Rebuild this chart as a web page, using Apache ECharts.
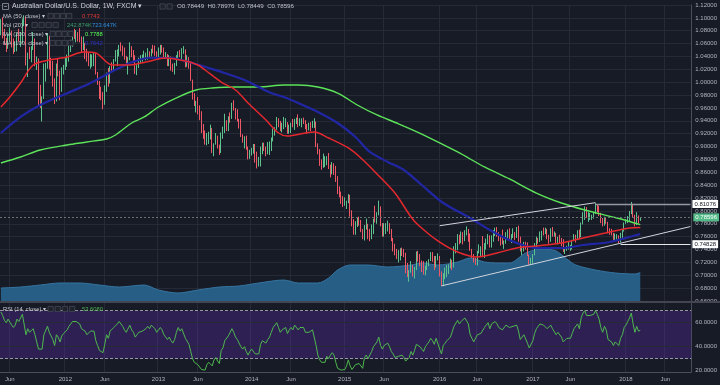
<!DOCTYPE html>
<html><head><meta charset="utf-8">
<script src="https://cdn.jsdelivr.net/npm/echarts@6/dist/echarts.min.js"></script>
<style>html,body{margin:0;padding:0;background:#171b26;}#c{width:720px;height:385px;}</style>
</head><body><div id="c"></div>
<script>
// ---------------- data ----------------
const firstWeek = [2011, 3, 25];   // Monday 2011-04-25 (UTC y, m-1, d)
const weekCount = 386;             // weekly slots on the time axis (data + empty future)
const firstOpen = 1.077;

const closes = [
1.096,1.075,1.064,1.063,1.073,1.073,1.054,1.050,1.053,1.074,
1.068,1.070,1.097,1.101,1.027,1.045,1.042,1.051,1.060,1.030,
1.035,0.977,0.972,0.976,1.028,1.029,1.071,1.037,1.020,1.003,
0.976,1.026,1.016,0.989,1.014,1.023,1.030,1.038,1.051,1.063,
1.074,1.071,1.074,1.072,1.069,1.054,1.059,1.046,1.035,1.029,
1.034,1.035,1.043,1.013,0.999,0.980,0.976,0.969,0.990,1.014,
1.000,1.024,1.021,1.034,1.041,1.048,1.055,1.054,1.046,1.038,
1.033,1.036,1.054,1.042,1.036,1.021,1.026,1.036,1.038,1.039,
1.042,1.044,1.048,1.043,1.052,1.050,1.046,1.038,1.045,1.056,
1.051,1.040,1.043,1.029,1.035,1.027,1.020,1.027,1.041,1.047,
1.042,1.049,1.050,1.028,1.031,1.023,1.002,0.979,0.967,0.967,
0.951,0.949,0.929,0.913,0.908,0.918,0.922,0.924,0.890,0.903,
0.915,0.900,0.893,0.921,0.924,0.938,0.933,0.947,0.946,0.966,
0.958,0.946,0.940,0.936,0.917,0.908,0.911,0.896,0.882,0.890,
0.895,0.898,0.878,0.872,0.875,0.895,0.904,0.899,0.892,0.902,
0.907,0.910,0.926,0.929,0.942,0.935,0.925,0.932,0.935,0.937,
0.923,0.930,0.936,0.931,0.941,0.943,0.933,0.940,0.941,0.940,
0.931,0.929,0.931,0.929,0.934,0.938,0.901,0.892,0.875,0.870,
0.872,0.878,0.881,0.868,0.863,0.871,0.869,0.848,0.829,0.825,
0.812,0.810,0.811,0.815,0.823,0.792,0.778,0.772,0.780,0.783,
0.782,0.768,0.758,0.775,0.779,0.766,0.760,0.778,0.786,0.785,
0.796,0.805,0.777,0.766,0.774,0.776,0.778,0.767,0.754,0.745,
0.734,0.728,0.731,0.740,0.735,0.731,0.713,0.699,0.705,0.710,
0.701,0.711,0.730,0.729,0.720,0.713,0.703,0.713,0.718,0.723,
0.733,0.724,0.714,0.727,0.729,0.700,0.686,0.701,0.707,0.711,
0.712,0.717,0.715,0.744,0.748,0.758,0.752,0.765,0.756,0.768,
0.770,0.761,0.739,0.730,0.723,0.719,0.735,0.738,0.738,0.734,
0.749,0.752,0.761,0.749,0.760,0.762,0.766,0.762,0.755,0.754,
0.750,0.751,0.763,0.765,0.758,0.762,0.762,0.760,0.767,0.757,
0.739,0.743,0.748,0.747,0.731,0.720,0.722,0.731,0.747,0.756,
0.754,0.767,0.768,0.766,0.768,0.760,0.758,0.770,0.763,0.764,
0.752,0.757,0.755,0.748,0.738,0.740,0.744,0.745,0.745,0.754,
0.760,0.759,0.769,0.760,0.781,0.791,0.799,0.791,0.792,0.793,
0.793,0.795,0.806,0.801,0.795,0.784,0.778,0.788,0.782,0.766,
0.765,0.764,0.756,0.761,0.761,0.752,0.765,0.769,0.781,0.785,
0.790,0.799,0.810,0.792,0.780,0.792,0.78449,0.78596];

const highs = [
1.098,1.101,1.083,1.069,1.075,1.085,1.080,1.068,1.063,1.077,
1.083,1.078,1.098,1.104,1.102,1.046,1.055,1.056,1.078,1.068,
1.040,1.037,0.996,0.978,1.029,1.030,1.076,1.072,1.038,1.033,
1.006,1.029,1.036,1.018,1.023,1.027,1.038,1.043,1.058,1.066,
1.077,1.083,1.081,1.078,1.084,1.071,1.071,1.061,1.052,1.047,
1.044,1.043,1.046,1.045,1.016,1.002,0.993,0.985,0.995,1.015,
1.022,1.025,1.031,1.036,1.050,1.051,1.058,1.062,1.057,1.054,
1.041,1.039,1.062,1.056,1.050,1.042,1.028,1.038,1.042,1.043,
1.049,1.046,1.053,1.048,1.052,1.058,1.057,1.048,1.054,1.058,
1.058,1.054,1.047,1.044,1.042,1.040,1.029,1.030,1.042,1.048,
1.050,1.053,1.056,1.051,1.042,1.039,1.033,1.004,0.983,0.971,
0.977,0.964,0.955,0.935,0.925,0.921,0.923,0.934,0.929,0.905,
0.921,0.917,0.903,0.922,0.931,0.951,0.941,0.947,0.953,0.968,
0.972,0.960,0.958,0.943,0.943,0.919,0.916,0.917,0.900,0.895,
0.898,0.904,0.904,0.892,0.884,0.900,0.906,0.906,0.900,0.907,
0.908,0.914,0.928,0.930,0.946,0.944,0.940,0.937,0.946,0.944,
0.938,0.934,0.937,0.943,0.943,0.945,0.950,0.944,0.944,0.945,
0.941,0.935,0.937,0.938,0.940,0.944,0.939,0.905,0.896,0.880,
0.889,0.885,0.885,0.890,0.872,0.876,0.874,0.870,0.854,0.838,
0.830,0.823,0.821,0.816,0.826,0.825,0.801,0.787,0.784,0.789,
0.791,0.786,0.772,0.778,0.788,0.780,0.772,0.779,0.788,0.808,
0.798,0.816,0.807,0.781,0.781,0.781,0.785,0.781,0.772,0.758,
0.749,0.741,0.739,0.742,0.743,0.741,0.735,0.719,0.708,0.722,
0.716,0.713,0.737,0.738,0.733,0.723,0.722,0.715,0.722,0.725,
0.736,0.736,0.730,0.730,0.734,0.730,0.706,0.703,0.712,0.716,
0.717,0.726,0.724,0.745,0.750,0.764,0.763,0.768,0.767,0.770,
0.776,0.772,0.765,0.741,0.733,0.727,0.738,0.748,0.745,0.761,
0.750,0.757,0.764,0.762,0.762,0.770,0.774,0.775,0.767,0.760,
0.771,0.754,0.767,0.771,0.773,0.764,0.773,0.767,0.775,0.777,
0.760,0.745,0.752,0.752,0.751,0.732,0.727,0.733,0.750,0.760,
0.758,0.768,0.769,0.774,0.774,0.772,0.763,0.773,0.775,0.768,
0.766,0.760,0.763,0.758,0.756,0.742,0.746,0.752,0.747,0.755,
0.764,0.763,0.770,0.771,0.782,0.798,0.807,0.806,0.798,0.797,
0.794,0.797,0.812,0.810,0.808,0.797,0.789,0.791,0.790,0.783,
0.773,0.772,0.766,0.765,0.764,0.762,0.766,0.770,0.782,0.787,
0.792,0.800,0.814,0.811,0.794,0.798,0.793,0.78976];

const lows = [
1.073,1.068,1.058,1.047,1.052,1.064,1.054,1.044,1.047,1.048,
1.063,1.055,1.061,1.087,1.026,1.008,1.036,1.031,1.050,1.025,
1.019,0.963,0.960,0.939,0.974,1.001,1.021,1.020,1.010,0.993,
0.966,0.970,1.009,0.972,0.985,1.012,1.019,1.024,1.032,1.047,
1.055,1.067,1.062,1.063,1.062,1.046,1.050,1.036,1.032,1.025,
1.021,1.024,1.025,1.012,0.996,0.974,0.972,0.958,0.965,0.985,
0.993,0.998,1.017,1.017,1.032,1.025,1.040,1.048,1.041,1.035,
1.027,1.012,1.034,1.039,1.030,1.013,1.011,1.022,1.030,1.032,
1.037,1.034,1.035,1.037,1.040,1.045,1.041,1.035,1.035,1.043,
1.046,1.037,1.036,1.025,1.025,1.018,1.016,1.012,1.025,1.036,
1.039,1.036,1.044,1.023,1.024,1.021,1.002,0.973,0.963,0.953,
0.950,0.941,0.921,0.912,0.903,0.902,0.904,0.911,0.890,0.885,
0.903,0.897,0.887,0.890,0.912,0.921,0.924,0.924,0.937,0.943,
0.956,0.942,0.939,0.928,0.915,0.906,0.897,0.895,0.880,0.881,
0.886,0.889,0.875,0.866,0.869,0.869,0.888,0.893,0.885,0.888,
0.887,0.893,0.908,0.917,0.926,0.930,0.924,0.922,0.927,0.930,
0.920,0.920,0.921,0.930,0.926,0.935,0.930,0.932,0.930,0.935,
0.927,0.920,0.925,0.924,0.929,0.929,0.899,0.888,0.870,0.864,
0.867,0.868,0.871,0.865,0.852,0.857,0.856,0.845,0.826,0.821,
0.811,0.806,0.808,0.803,0.812,0.791,0.776,0.763,0.763,0.775,
0.777,0.767,0.756,0.754,0.771,0.756,0.753,0.756,0.764,0.782,
0.780,0.793,0.776,0.760,0.760,0.764,0.768,0.764,0.753,0.737,
0.731,0.725,0.720,0.723,0.730,0.728,0.703,0.697,0.690,0.704,
0.698,0.695,0.708,0.721,0.714,0.705,0.701,0.700,0.708,0.714,
0.722,0.721,0.708,0.712,0.723,0.698,0.683,0.683,0.694,0.697,
0.702,0.711,0.708,0.712,0.734,0.739,0.748,0.750,0.748,0.753,
0.762,0.752,0.738,0.727,0.720,0.716,0.715,0.734,0.729,0.728,
0.727,0.740,0.748,0.743,0.743,0.752,0.761,0.760,0.753,0.746,
0.748,0.741,0.749,0.757,0.756,0.750,0.758,0.755,0.758,0.752,
0.737,0.731,0.737,0.740,0.730,0.716,0.716,0.718,0.731,0.742,
0.749,0.752,0.754,0.762,0.764,0.756,0.749,0.752,0.760,0.760,
0.750,0.748,0.749,0.745,0.736,0.733,0.738,0.740,0.738,0.740,
0.753,0.751,0.756,0.756,0.759,0.779,0.786,0.789,0.783,0.786,
0.786,0.788,0.795,0.798,0.792,0.781,0.776,0.777,0.780,0.765,
0.763,0.762,0.754,0.752,0.755,0.7501,0.751,0.758,0.768,0.780,
0.781,0.784,0.795,0.790,0.776,0.778,0.780,0.78449];

const rsi = [
69,66,62,60,63,63,58,56,58,63,
61,62,67,66,50,55,52,53,55,50,
51,38,37,38,50,50,57,52,49,46,
41,50,48,44,49,51,52,54,57,59,
61,61,61,60,59,55,56,53,50,51,
53,52,53,45,41,37,36,35,42,50,
47,53,52,56,57,59,61,60,57,54,
52,53,58,54,52,48,50,52,53,53,
54,55,57,55,58,57,55,52,52,56,
54,50,49,46,48,45,43,46,52,56,
53,55,55,47,48,42,36,30,27,28,
25,25,21,21,20.5,25,27,28,24,29,
31,28,26,37,39,45,44,49,49,55,
52,48,46,47,40,38,40,36,33,36,
38,39,34,33,34,42,45,44,43,46,
48,52,56,57,60,56,52,54,55,56,
51,54,56,54,58,58,54,56,57,56,
52,51,52,51,54,55,41,33,29,27,
28,27,32,30,33,35,33,27,22,22,
20.5,20.5,21,24,29,24,21,21,25,24,
26,24,22,31,33,30,29,36,40,40,
44,48,41,38,41,42,43,40,36,34,
31,30,32,32,33,31,28,27,31,36,
33,37,42,42,40,38,36,40,42,44,
47,45,42,47,48,38,34,41,43,45,
46,48,47,57,58,62,59,61,60,64,
64,59,50,47,44,43,50,51,51,50,
56,57,60,55,59,60,61,59,56,56,
54,54,58,59,56,57,57,56,58,53,
46,48,50,49,43,39,40,45,51,55,
54,59,59,58,58,55,54,58,55,56,
50,52,51,48,44,45,47,47,47,51,
55,54,59,55,64,68,70,66,66,66,
66,67,70,67,63,56,52,57,54,46,
45,44,41,44,44,41,47,50,56,58,
61,64,68,59,52,57,53,53.608];

// moving averages: [week index, value]
const ma50 = [[0,0.9615],[5,0.977],[11,0.9988],[18,1.0268],[27,1.0345],[37,1.0392],[46,1.047],[53,1.0454],[62,1.0268],[72,1.0268],[81,1.0314],[92,1.0376],[103,1.033],[110,1.0268],[114,1.019],[123,1.0003],[131,0.9879],[138,0.9677],[148,0.9413],[155,0.9211],[160,0.9164],[170,0.9211],[175,0.9226],[183,0.9133],[194,0.8978],[201,0.8822],[210,0.8574],[220,0.8278],[229,0.7906],[233,0.7781],[244,0.7533],[255,0.7362],[266,0.7284],[277,0.7346],[288,0.7424],[299,0.7455],[313,0.7501],[325,0.7579],[340,0.7672],[351,0.7735],[357,0.7743]];
const ma100 = [[0,0.9211],[11,0.946],[22,0.9646],[37,0.983],[48,0.996],[55,1.006],[61,1.015],[66,1.022],[73,1.031],[83,1.038],[95,1.0376],[105,1.0314],[116,1.0221],[125,1.0143],[136,1.0034],[144,0.9926],[151,0.9832],[158,0.977],[166,0.9677],[177,0.9537],[188,0.9366],[198,0.9149],[206,0.8916],[216,0.8761],[225,0.8636],[235,0.8403],[247,0.8123],[262,0.789],[275,0.7672],[288,0.7501],[299,0.7424],[314,0.7424],[325,0.747],[340,0.7517],[351,0.7595],[357,0.7642]];
const ma200 = [[0,0.8745],[11,0.8838],[22,0.8947],[37,0.9025],[48,0.9071],[59,0.9118],[64,0.918],[73,0.9366],[80,0.946],[88,0.9615],[99,0.977],[109,0.9879],[118,0.991],[131,0.9926],[144,0.9926],[158,0.9957],[166,0.9957],[177,0.9926],[188,0.9832],[199,0.9646],[210,0.9491],[221,0.9366],[235,0.9195],[255,0.8916],[270,0.8683],[284,0.8496],[299,0.8278],[313,0.8123],[326,0.8014],[344,0.789],[357,0.7788]];
// volume 20-week average, thousands
const volMA = [[0,330],[11,355],[22,406],[33,457],[44,457],[55,406],[66,355],[80,406],[88,279],[99,203],[110,279],[122,355],[133,381],[144,457],[158,533],[166,457],[177,457],[183,584],[188,787],[195,914],[205,914],[216,863],[229,914],[235,965],[244,914],[255,990],[262,1092],[270,990],[277,965],[284,965],[293,1219],[302,1320],[310,1270],[316,1066],[321,914],[332,787],[343,711],[354,686],[357,724]];

// drawings
const channelUpper = [[245,0.777],[332,0.8128]];
const channelLower = [[246,0.6835],[385,0.7757]];
const levelHigh = [332, 0.81076];
const levelLow = [346, 0.74828];
const lastPrice = 0.78596;

const priceMin = 0.66, priceMax = 1.12, priceStep = 0.02;
const volAxisMax = 7516;
const rsiMin = 18.92, rsiMax = 76.42;
const rsiTicks = [20, 40, 60];
const rsiBand = [30, 70];

// ---------------- build ----------------
const DAY = 864e5;
const t0 = Date.UTC(firstWeek[0], firstWeek[1], firstWeek[2]);
const cats = [];
for (let i = 0; i < weekCount; i++) cats.push(new Date(t0 + i * 7 * DAY).toISOString().slice(0, 10));
const labelMap = {};
for (let y = 2011; y <= 2018; y++) {
  [[0, String(y)], [5, 'Jun']].forEach(([m, s]) => {
    const k = Math.round((Date.UTC(y, m, 1) - t0) / (7 * DAY));
    if (k >= 0 && k < weekCount) labelMap[k] = s;
  });
}
const isLabelWeek = (i) => labelMap[i] !== undefined;

const candles = closes.map((c, i) => [i === 0 ? firstOpen : closes[i - 1], c, lows[i], highs[i]]);

const FONT = '"Liberation Sans", Arial, sans-serif';
const BG = '#171b26', GRID = '#262a36', AXIS = '#4a4e59', TXT = '#b2b5be', LEG = '#c4c7ce';
const UP = '#5ec28f', DOWN = '#ef5866';

function txt(x, y, s, color, size) {
  return {type:'text', x:x, y:y, z:100, silent:true,
    style:{text:s, fill:color, font: size + 'px ' + FONT, verticalAlign:'middle', textVerticalAlign:'middle', align:'left'}};
}
function boxes(x, y, n, step) {
  const out = [];
  for (let i = 0; i < n; i++) out.push({type:'rect', z:100, silent:true,
    shape:{x:x + i * step, y:y - 2.6, width:5.2, height:5.2},
    style:{fill:'#1e222d', stroke:'#454955', lineWidth:0.8}});
  return out;
}
const badge = (bg, fg) => ({show:true, position:'end', distance:2, color:fg, backgroundColor:bg,
  padding:[1,2,1,2], fontSize:6, fontFamily:FONT});

const chart = echarts.init(document.getElementById('c'), null, {renderer:'canvas'});
chart.setOption({
  backgroundColor: BG,
  animation: false,
  textStyle: {fontFamily: FONT},
  grid: [{left:0, right:23, top:5, height:296}, {left:0, right:23, top:303, height:69}],
  xAxis: [
    {type:'category', gridIndex:0, data:cats, boundaryGap:true,
     axisLine:{show:false}, axisTick:{show:false}, axisLabel:{show:false},
     splitLine:{show:true, interval:isLabelWeek, lineStyle:{color:GRID, width:1}}},
    {type:'category', gridIndex:1, data:cats, boundaryGap:true,
     axisLine:{show:true, lineStyle:{color:AXIS}}, axisTick:{show:false},
     axisLabel:{interval:isLabelWeek, formatter:(v, i) => labelMap[i] || '', color:TXT, fontSize:6, margin:4},
     splitLine:{show:true, interval:isLabelWeek, lineStyle:{color:GRID, width:1}}}
  ],
  yAxis: [
    {type:'value', gridIndex:0, position:'right', min:priceMin, max:priceMax, interval:priceStep,
     axisLine:{show:true, lineStyle:{color:AXIS}}, axisTick:{show:false},
     axisLabel:{color:TXT, fontSize:6, margin:4, formatter:(v) => v.toFixed(5)},
     splitLine:{show:true, lineStyle:{color:GRID}}},
    {type:'value', gridIndex:0, min:0, max:volAxisMax, show:false, splitLine:{show:false}},
    {type:'value', gridIndex:1, position:'right', min:rsiMin, max:rsiMax,
     axisLine:{show:true, lineStyle:{color:AXIS}}, axisTick:{show:false, customValues:rsiTicks},
     axisLabel:{customValues:rsiTicks, color:TXT, fontSize:6, margin:4, formatter:(v) => v.toFixed(4)},
     splitLine:{show:false}}
  ],
  series: [
    {name:'Vol MA', type:'line', xAxisIndex:0, yAxisIndex:1, data:volMA, smooth:0.3, symbol:'none',
     lineStyle:{color:'#3674a0', width:1}, areaStyle:{color:'#265e86', opacity:1}, z:1, silent:true},
    {name:'AUDUSD', type:'candlestick', xAxisIndex:0, yAxisIndex:0, data:candles, barWidth:1.1,
     itemStyle:{color:UP, color0:DOWN, borderColor:UP, borderColor0:DOWN, borderWidth:1}, z:3,
     markLine:{symbol:['none','none'], silent:true, animation:false, data:[
       {yAxis:lastPrice, lineStyle:{color:'#66746f', type:[2,2], width:1},
        label:Object.assign(badge('#53b987', '#ffffff'), {formatter:lastPrice.toFixed(5)})},
       [{coord:levelHigh, lineStyle:{color:'#9598a1', type:'solid', width:1.3},
         label:Object.assign(badge('#ffffff', '#131722'), {formatter:levelHigh[1].toFixed(5)})},
        {coord:[weekCount - 1, levelHigh[1]]}],
       [{coord:levelLow, lineStyle:{color:'#e6e8ee', type:'solid', width:1.2},
         label:Object.assign(badge('#ffffff', '#131722'), {formatter:levelLow[1].toFixed(5)})},
        {coord:[weekCount - 1, levelLow[1]]}]
     ]}},
    {name:'MA200', type:'line', xAxisIndex:0, yAxisIndex:0, data:ma200, smooth:0.3, symbol:'none',
     lineStyle:{color:'#5de35a', width:1.4}, z:4, silent:true},
    {name:'MA100', type:'line', xAxisIndex:0, yAxisIndex:0, data:ma100, smooth:0.3, symbol:'none',
     lineStyle:{color:'#2127a4', width:2.2}, z:4, silent:true},
    {name:'MA50', type:'line', xAxisIndex:0, yAxisIndex:0, data:ma50, smooth:0.3, symbol:'none',
     lineStyle:{color:'#e5282e', width:1.5}, z:5, silent:true},
    {name:'chanU', type:'line', xAxisIndex:0, yAxisIndex:0, data:channelUpper, symbol:'none',
     lineStyle:{color:'#d1d4dc', width:1}, z:6, silent:true},
    {name:'chanL', type:'line', xAxisIndex:0, yAxisIndex:0, data:channelLower, symbol:'none',
     lineStyle:{color:'#d1d4dc', width:1}, z:6, silent:true},
    {name:'RSI', type:'line', xAxisIndex:1, yAxisIndex:2, data:rsi, symbol:'none',
     lineStyle:{color:'#4fb84f', width:1}, z:5, silent:true,
     markArea:{silent:true, itemStyle:{color:'rgba(98,45,190,0.30)'}, data:[[{yAxis:rsiBand[0]}, {yAxis:rsiBand[1]}]]},
     markLine:{symbol:['none','none'], silent:true, label:{show:false},
       data:[
         {yAxis:rsiTicks[1], lineStyle:{color:GRID, type:'solid', width:1}},
         {yAxis:rsiTicks[2], lineStyle:{color:GRID, type:'solid', width:1}},
         {yAxis:rsiBand[1], lineStyle:{color:'#9598a1', type:[3,2], width:1}},
         {yAxis:rsiBand[0], lineStyle:{color:'#9598a1', type:[3,2], width:1}}
       ]}}
  ],
  graphic: [
    {type:'rect', z:100, silent:true, shape:{x:2.5, y:3.5, width:6, height:6}, style:{fill:'none', stroke:'#9598a1', lineWidth:0.8}},
    {type:'line', z:100, silent:true, shape:{x1:4, y1:6.5, x2:7, y2:6.5}, style:{stroke:'#9598a1', lineWidth:0.8}},
    txt(12, 6.5, 'Australian Dollar/U.S. Dollar, 1W, FXCM \u25BE', '#d1d4dc', 7),
    ...boxes(160, 6.5, 2, 7),
    txt(177, 6.5, 'O0.78449  H0.78976  L0.78449  C0.78596', '#c0c3ca', 6.2),
    txt(3, 16, 'MA (50, close) \u25BE', LEG, 5.8), ...boxes(48, 16, 4, 6.2), txt(82, 16, '0.7743', '#e53935', 5.8),
    txt(3, 25, 'Vol (20) \u25BE', LEG, 5.8), ...boxes(32, 25, 4, 7), txt(67, 25, '242.874K', '#3f9f6a', 5.8), txt(92, 25, '723.647K', '#2f8fe0', 5.8),
    txt(3, 34, 'MA (200, close) \u25BE', LEG, 5.8), ...boxes(50, 34, 4, 6), txt(85, 34, '0.7788', '#5cff5c', 5.8),
    txt(3, 43, 'MA (100, close) \u25BE', LEG, 5.8), ...boxes(50, 43, 4, 6), txt(85, 43, '0.7642', '#2a30c8', 5.8),
    txt(3, 309, 'RSI (14, close) \u25BE', LEG, 5.8), ...boxes(48, 309, 4, 7.2), txt(82, 309, '53.6080', '#4caf50', 5.8),
    {type:'line', z:90, silent:true, shape:{x1:0, y1:302, x2:720, y2:302}, style:{stroke:'#434651', lineWidth:2}}
  ]
});
</script>
</body></html>
